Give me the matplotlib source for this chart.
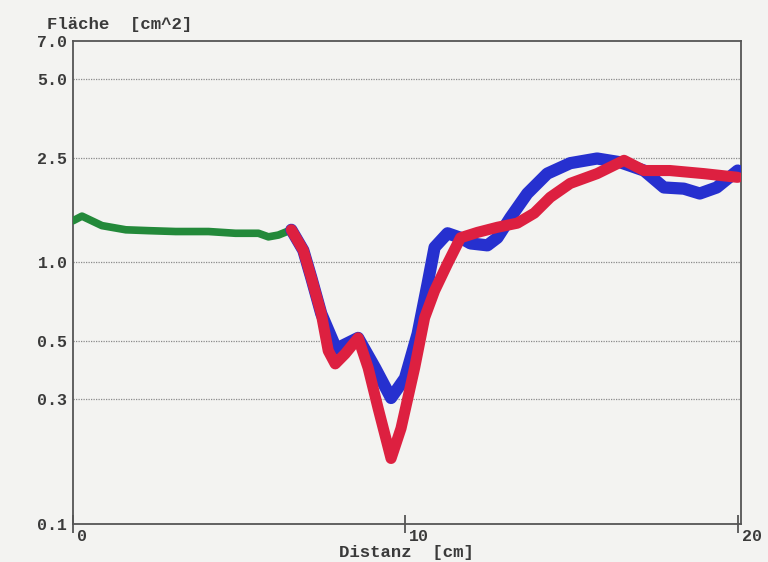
import matplotlib
matplotlib.use("Agg")
import matplotlib.pyplot as plt
import matplotlib.transforms as mtransforms

# ---- data ----
green_x = [0.0, 0.27, 0.87, 1.59, 2.28, 3.09, 4.08, 4.89, 5.58, 5.88, 6.18, 6.57]
green_y = [1.44, 1.50, 1.38, 1.33, 1.32, 1.31, 1.31, 1.29, 1.29, 1.25, 1.27, 1.33]

blue_x = [6.57, 6.93, 7.17, 7.47, 7.92, 8.58, 9.09, 9.57, 9.99, 10.37, 10.67, 10.88,
          11.27, 11.66, 11.96, 12.47, 12.77, 13.16, 13.67, 14.27, 14.96, 15.77,
          16.46, 17.18, 17.78, 18.38, 18.86, 19.37, 20.0]
blue_y = [1.33, 1.11, 0.873, 0.636, 0.467, 0.514, 0.395, 0.303, 0.361, 0.533, 0.828, 1.14,
          1.29, 1.24, 1.18, 1.16, 1.24, 1.48, 1.83, 2.18, 2.39, 2.49,
          2.41, 2.24, 1.93, 1.91, 1.83, 1.93, 2.24]

red_x = [6.57, 6.93, 7.17, 7.47, 7.68, 7.89, 8.19, 8.58, 8.88, 9.18, 9.57, 9.87,
         10.28, 10.58, 10.88, 11.27, 11.66, 12.17, 12.77, 13.37, 13.88, 14.36,
         14.96, 15.77, 16.58, 17.18, 17.96, 18.98, 20.0]
red_y = [1.33, 1.11, 0.873, 0.636, 0.459, 0.409, 0.447, 0.514, 0.395, 0.277, 0.178, 0.232,
         0.395, 0.614, 0.778, 0.988, 1.24, 1.30, 1.36, 1.41, 1.54, 1.77,
         2.00, 2.18, 2.45, 2.24, 2.24, 2.18, 2.11]

y_ticks = [0.1, 0.3, 0.5, 1.0, 2.5, 5.0, 7.0]
y_tick_labels = ["0.1", "0.3", "0.5", "1.0", "2.5", "5.0", "7.0"]
grid_levels = [0.3, 0.5, 1.0, 2.5, 5.0]
x_ticks = [0, 10, 20]
x_tick_labels = ["0", "10", "20"]

title_text = "Fläche  [cm^2]"
xlabel_text = "Distanz  [cm]"

# ---- figure ----
bg = "#f3f3f1"
txt = "#3a3a3a"
font = ["Liberation Mono", "DejaVu Sans Mono"]

fig = plt.figure(figsize=(7.68, 5.62), dpi=100, facecolor=bg)
ax = fig.add_axes([73/768, 1-524/562, (741-73)/768, (524-41)/562])
ax.set_facecolor(bg)
ax.set_yscale("log")
ax.set_xlim(0, 20.1)
ax.set_ylim(0.1, 7.0)

for g in grid_levels:
    ax.axhline(g, color="#8a8a8a", lw=0.9, ls=(0, (1, 1)), zorder=1)

ax.plot(green_x, green_y, color="#23893a", lw=5.5, solid_capstyle="round",
        solid_joinstyle="round", zorder=3)
ax.plot(blue_x, blue_y, color="#2630cf", lw=8.8, solid_capstyle="round",
        solid_joinstyle="round", zorder=4)
ax.plot(red_x, red_y, color="#dd2040", lw=8.0, solid_capstyle="round",
        solid_joinstyle="round", zorder=5)

for s in ax.spines.values():
    s.set_color("#555555")
    s.set_linewidth(1.3)

ax.set_yticks(y_ticks)
ax.set_yticklabels(y_tick_labels)
ax.yaxis.set_minor_locator(matplotlib.ticker.NullLocator())
ax.tick_params(axis="y", length=0, pad=4, labelsize=12, labelcolor=txt)
for lab in ax.get_yticklabels():
    lab.set_fontfamily(font)
    lab.set_fontweight("bold")

ax.set_xticks(x_ticks)
ax.set_xticklabels(x_tick_labels)
ax.tick_params(axis="x", direction="inout", length=13, width=1.3, color="#555555",
               pad=-3, labelsize=12, labelcolor=txt)
offset = mtransforms.ScaledTranslation(4/100, 0, fig.dpi_scale_trans)
for lab in ax.get_xticklabels():
    lab.set_fontfamily(font)
    lab.set_fontweight("bold")
    lab.set_horizontalalignment("left")
    lab.set_transform(lab.get_transform() + offset)

fig.text(47/768, 1-25/562, title_text, fontsize=12.5, fontfamily=font,
         fontweight="bold", color=txt, ha="left", va="center")
fig.text(406/768, 1-553/562, xlabel_text, fontsize=12.5, fontfamily=font,
         fontweight="bold", color=txt, ha="center", va="center")

fig.savefig("out.png", dpi=100, facecolor=bg)
